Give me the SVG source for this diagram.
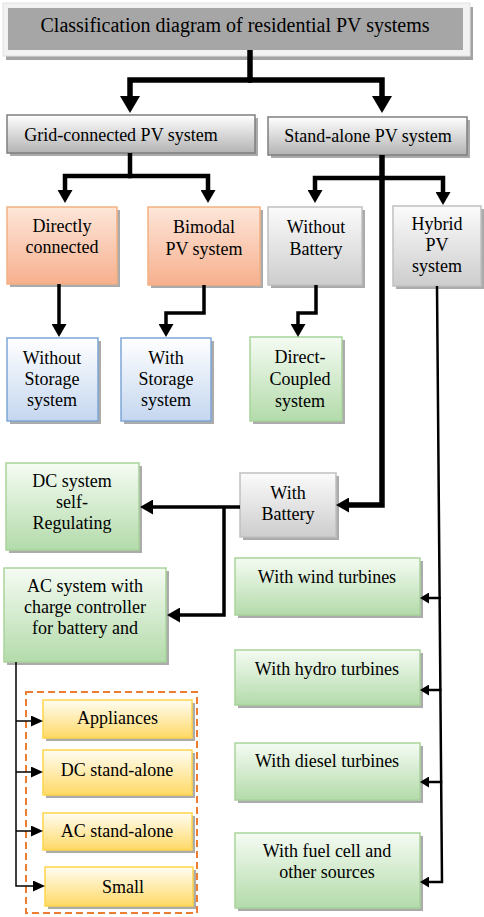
<svg xmlns="http://www.w3.org/2000/svg" width="484" height="917" viewBox="0 0 484 917">
<defs>
<linearGradient id="gGray1" x1="0" y1="0" x2="0" y2="1"><stop offset="0" stop-color="#ffffff"/><stop offset="1" stop-color="#b3b3b3"/></linearGradient>
<linearGradient id="gGray2" x1="0" y1="0" x2="0" y2="1"><stop offset="0" stop-color="#fbfbfb"/><stop offset="1" stop-color="#cdcdcd"/></linearGradient>
<linearGradient id="gOrange" x1="0" y1="0" x2="0" y2="1"><stop offset="0" stop-color="#fde6d9"/><stop offset="1" stop-color="#f7b08e"/></linearGradient>
<linearGradient id="gBlue" x1="0" y1="0" x2="0" y2="1"><stop offset="0" stop-color="#ffffff"/><stop offset="1" stop-color="#c4d6ef"/></linearGradient>
<linearGradient id="gGreen" x1="0" y1="0" x2="0" y2="1"><stop offset="0" stop-color="#f5fbf3"/><stop offset="1" stop-color="#b3dbaa"/></linearGradient>
<linearGradient id="gYellow" x1="0" y1="0" x2="0" y2="1"><stop offset="0" stop-color="#fffdf3"/><stop offset="1" stop-color="#ffd966"/></linearGradient>
<marker id="aBig" markerUnits="userSpaceOnUse" markerWidth="18" markerHeight="20" refX="0" refY="10" orient="auto"><path d="M0,0 L17,10 L0,20 Z" fill="#000"/></marker>
<marker id="aMed" markerUnits="userSpaceOnUse" markerWidth="14" markerHeight="15" refX="0" refY="7.5" orient="auto"><path d="M0,0 L13,7.5 L0,15 Z" fill="#000"/></marker>
<marker id="aSm" markerUnits="userSpaceOnUse" markerWidth="13" markerHeight="11" refX="0" refY="5.5" orient="auto"><path d="M0,0 L12,5.5 L0,11 Z" fill="#000"/></marker>
<marker id="aHy" markerUnits="userSpaceOnUse" markerWidth="10" markerHeight="11" refX="0" refY="5.5" orient="auto"><path d="M0,0 L9,5.5 L0,11 Z" fill="#000"/></marker>
</defs>
<style>
text{font-family:"Liberation Serif","Times New Roman",serif;font-size:18px;fill:#000;text-anchor:middle}
.sh{fill:#9c9c9c;opacity:0.85}
.gray1{fill:url(#gGray1);stroke:#7f7f7f;stroke-width:1.5}
.gray2{fill:url(#gGray2);stroke:#c0c0c0;stroke-width:1.5}
.orange{fill:url(#gOrange);stroke:#f4b183;stroke-width:1.5}
.blue{fill:url(#gBlue);stroke:#7ea6d6;stroke-width:1.5}
.green{fill:url(#gGreen);stroke:#a9d39b;stroke-width:1.5}
.yellow{fill:url(#gYellow);stroke:#ffd54a;stroke-width:1.5}
.c{fill:none;stroke:#000;stroke-linejoin:miter}
.w5{stroke-width:5.5}
.w4{stroke-width:4.5}
.w3{stroke-width:3.5}
.w25{stroke-width:2.5}
.w15{stroke-width:1.5}
</style>
<rect x="0" y="0" width="484" height="917" fill="#ffffff"/>

<g id="title">
<rect x="6" y="7" width="467" height="53" fill="#a3a3a3"/>
<rect x="3" y="3" width="467" height="53" fill="#f2f2f2" stroke="#e2e2e2"/>
<rect x="8" y="8" width="455" height="42" fill="#a6a6a6"/>
<text x="235" y="32" style="font-size:20px">Classification diagram of residential PV systems</text>
</g>

<g id="grid">
<rect class="sh" x="10" y="118" width="248" height="38"/>
<rect class="gray1" x="7" y="115" width="248" height="38"/>
<text x="121" y="141">Grid-connected PV system</text>
</g>
<g id="standalone">
<rect class="sh" x="271" y="120" width="199" height="38"/>
<rect class="gray1" x="268" y="117" width="199" height="38"/>
<text x="368" y="142">Stand-alone PV system</text>
</g>

<g id="directly">
<rect class="sh" x="10" y="210" width="110" height="77"/>
<rect class="orange" x="7" y="207" width="110" height="77"/>
<text x="62" y="232">Directly</text>
<text x="62" y="253">connected</text>
</g>
<g id="bimodal">
<rect class="sh" x="151" y="210" width="112" height="78"/>
<rect class="orange" x="148" y="207" width="112" height="78"/>
<text x="204" y="233">Bimodal</text>
<text x="204" y="255">PV system</text>
</g>
<g id="withoutbattery">
<rect class="sh" x="271" y="210" width="94" height="78"/>
<rect class="gray2" x="268" y="207" width="94" height="78"/>
<text x="316" y="233">Without</text>
<text x="316" y="255">Battery</text>
</g>
<g id="hybrid">
<rect class="sh" x="396" y="209" width="88" height="80"/>
<rect class="gray2" x="393" y="206" width="88" height="80"/>
<text x="437" y="230">Hybrid</text>
<text x="437" y="251">PV</text>
<text x="437" y="272">system</text>
</g>

<g id="withoutstorage">
<rect class="sh" x="10" y="341" width="91" height="83"/>
<rect class="blue" x="7" y="338" width="91" height="83"/>
<text x="52" y="364">Without</text>
<text x="52" y="385">Storage</text>
<text x="52" y="406">system</text>
</g>
<g id="withstorage">
<rect class="sh" x="124" y="341" width="90" height="83"/>
<rect class="blue" x="121" y="338" width="90" height="83"/>
<text x="166" y="364">With</text>
<text x="166" y="385">Storage</text>
<text x="166" y="406">system</text>
</g>
<g id="directcoupled">
<rect class="sh" x="253" y="340" width="92" height="84"/>
<rect class="green" x="250" y="337" width="92" height="84"/>
<text x="300" y="363">Direct-</text>
<text x="300" y="385">Coupled</text>
<text x="300" y="407">system</text>
</g>

<g id="dcself">
<rect class="sh" x="9" y="466" width="133" height="87"/>
<rect class="green" x="6" y="463" width="133" height="87"/>
<text x="72" y="487">DC system</text>
<text x="72" y="508">self-</text>
<text x="72" y="529">Regulating</text>
</g>
<g id="withbattery">
<rect class="sh" x="243" y="476" width="96" height="64"/>
<rect class="gray2" x="240" y="473" width="96" height="64"/>
<text x="288" y="499">With</text>
<text x="288" y="520">Battery</text>
</g>
<g id="acsystem">
<rect class="sh" x="7" y="571" width="162" height="94"/>
<rect class="green" x="4" y="568" width="162" height="94"/>
<text x="85" y="592">AC system with</text>
<text x="85" y="613">charge controller</text>
<text x="85" y="634">for battery and</text>
</g>

<g id="wind">
<rect class="sh" x="238" y="561" width="185" height="57"/>
<rect class="green" x="235" y="558" width="185" height="57"/>
<text x="327" y="583">With wind turbines</text>
</g>
<g id="hydro">
<rect class="sh" x="238" y="653" width="185" height="55"/>
<rect class="green" x="235" y="650" width="185" height="55"/>
<text x="327" y="675">With hydro turbines</text>
</g>
<g id="diesel">
<rect class="sh" x="238" y="746" width="185" height="57"/>
<rect class="green" x="235" y="743" width="185" height="57"/>
<text x="327" y="767">With diesel turbines</text>
</g>
<g id="fuelcell">
<rect class="sh" x="238" y="836" width="185" height="75"/>
<rect class="green" x="235" y="833" width="185" height="75"/>
<text x="327" y="857">With fuel cell and</text>
<text x="327" y="878">other sources</text>
</g>

<g id="loadgroup">
<rect x="26" y="692" width="171" height="221" fill="none" stroke="#ed7d31" stroke-width="2" stroke-dasharray="7,4"/>
</g>
<g id="appliances">
<rect class="sh" x="46" y="703" width="149" height="38"/>
<rect class="yellow" x="43" y="700" width="149" height="38"/>
<text x="117.5" y="724">Appliances</text>
</g>
<g id="dcstand">
<rect class="sh" x="46" y="753" width="149" height="45"/>
<rect class="yellow" x="43" y="750" width="149" height="45"/>
<text x="117" y="776">DC stand-alone</text>
</g>
<g id="acstand">
<rect class="sh" x="46" y="816" width="149" height="37"/>
<rect class="yellow" x="43" y="813" width="149" height="37"/>
<text x="117" y="837">AC stand-alone</text>
</g>
<g id="small">
<rect class="sh" x="48" y="870" width="148" height="39"/>
<rect class="yellow" x="45" y="867" width="148" height="39"/>
<text x="123" y="893">Small</text>
</g>

<g id="connectors">
<path class="c w5" d="M250,50 V80"/>
<path class="c w5" d="M252,80 H130 V96" marker-end="url(#aBig)"/>
<path class="c w5" d="M248,80 H382 V96" marker-end="url(#aBig)"/>

<path class="c w4" d="M130,153 V176"/>
<path class="c w4" d="M132,176 H65 V190" marker-end="url(#aMed)"/>
<path class="c w4" d="M128,176 H208 V190" marker-end="url(#aMed)"/>

<path class="c w5" d="M382,155 V505 H349" marker-end="url(#aMed)"/>
<path class="c w4" d="M384,178 H315 V190" marker-end="url(#aMed)"/>
<path class="c w4" d="M380,178 H443 V192" marker-end="url(#aMed)"/>

<path class="c w3" d="M59,284 V324" marker-end="url(#aMed)"/>
<path class="c w3" d="M204,285 V313 H166 V324" marker-end="url(#aMed)"/>
<path class="c w3" d="M316,285 V313 H298 V324" marker-end="url(#aMed)"/>

<path class="c w3" d="M240,507 H153" marker-end="url(#aMed)"/>
<path class="c w3" d="M224,507 V615 H180" marker-end="url(#aMed)"/>

<path class="c w25" d="M437,286 L442,882 H429" marker-end="url(#aHy)"/>
<path class="c w25" d="M441,598 H429" marker-end="url(#aHy)"/>
<path class="c w25" d="M441.5,690 H429" marker-end="url(#aHy)"/>
<path class="c w25" d="M442.2,782 H429" marker-end="url(#aHy)"/>

<path class="c w15" d="M16,662 V886 H33" marker-end="url(#aSm)"/>
<path class="c w15" d="M16,721 H31" marker-end="url(#aSm)"/>
<path class="c w15" d="M16,772 H31" marker-end="url(#aSm)"/>
<path class="c w15" d="M16,831 H31" marker-end="url(#aSm)"/>
</g>
</svg>
